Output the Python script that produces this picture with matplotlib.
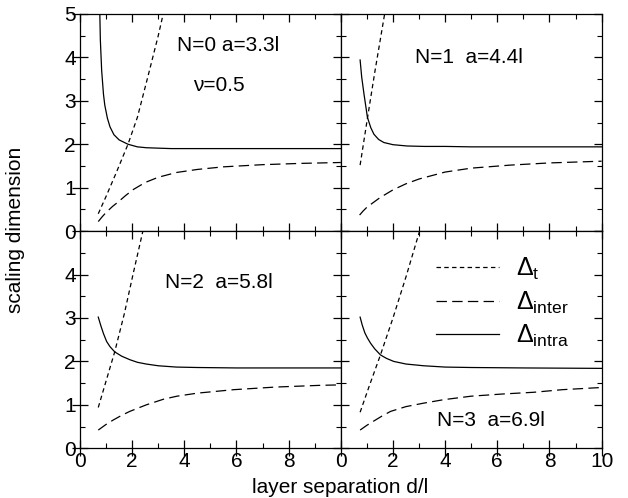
import matplotlib
matplotlib.use('Agg')
import matplotlib.pyplot as plt
from matplotlib.ticker import MultipleLocator

plt.rcParams['font.family'] = ['Liberation Sans', 'DejaVu Sans']
plt.rcParams['mathtext.fontset'] = 'custom'
plt.rcParams['mathtext.rm'] = 'Liberation Sans'
plt.rcParams['mathtext.it'] = 'Liberation Sans:italic'
plt.rcParams['lines.scale_dashes'] = False

# values, one panel per N
# N=0
d_intra0 = [0.76, 0.78, 0.83, 0.9, 0.95, 1.05, 1.15, 1.3, 1.5, 1.84, 2.2, 2.54, 3.0, 3.5, 4.5, 6, 8, 10]
y_intra0 = [5.0, 4.4, 3.7, 3.15, 2.9, 2.6, 2.4, 2.22, 2.1, 2.0, 1.94, 1.92, 1.91, 1.9, 1.9, 1.9, 1.9, 1.9]
d_t0 = [0.7, 1.0, 1.4, 1.84, 2.2, 2.6, 3.0, 3.19]
y_t0 = [0.4, 0.8, 1.36, 2.0, 2.62, 3.55, 4.5, 5.0]
d_inter0 = [0.7, 0.85, 1.0, 1.25, 1.5, 1.75, 2.05, 2.5, 3.0, 3.7, 4.5, 5.5, 7, 8.5, 10]
y_inter0 = [0.22, 0.33, 0.43, 0.57, 0.69, 0.82, 0.96, 1.12, 1.24, 1.35, 1.42, 1.48, 1.53, 1.56, 1.58]

# N=1
d_intra1 = [0.74, 0.8, 0.89, 1.02, 1.15, 1.27, 1.45, 1.65, 2.0, 2.54, 3.2, 4, 5, 7, 10]
y_intra1 = [3.94, 3.55, 3.15, 2.62, 2.38, 2.23, 2.11, 2.04, 1.99, 1.96, 1.95, 1.95, 1.94, 1.94, 1.94]
d_t1 = [0.74, 1.0, 1.3, 1.68]
y_t1 = [1.52, 2.52, 3.65, 5.0]
d_inter1 = [0.72, 0.85, 1.0, 1.25, 1.5, 2.0, 2.5, 3.0, 4.0, 5.0, 6.5, 8, 10]
y_inter1 = [0.37, 0.46, 0.55, 0.66, 0.77, 0.95, 1.09, 1.2, 1.36, 1.45, 1.52, 1.57, 1.61]

# N=2
d_intra2 = [0.7, 0.8, 0.9, 1.02, 1.15, 1.33, 1.6, 1.91, 2.2, 2.54, 3.0, 3.7, 4.5, 6, 8, 10]
y_intra2 = [3.02, 2.82, 2.64, 2.46, 2.34, 2.22, 2.12, 2.04, 1.98, 1.94, 1.9, 1.87, 1.86, 1.85, 1.85, 1.85]
d_t2 = [0.7, 1.0, 1.33, 1.7, 2.05, 2.41]
y_t2 = [0.94, 1.55, 2.22, 3.1, 4.05, 5.0]
d_inter2 = [0.7, 1.0, 1.27, 1.6, 1.91, 2.54, 3.2, 3.72, 4.5, 5.9, 7.5, 9.23, 10]
y_inter2 = [0.42, 0.55, 0.65, 0.76, 0.85, 1.0, 1.13, 1.2, 1.27, 1.35, 1.41, 1.45, 1.46]

# N=3
d_intra3 = [0.74, 0.82, 0.92, 1.02, 1.14, 1.3, 1.52, 1.75, 2.03, 2.5, 3.18, 4, 5, 7, 10]
y_intra3 = [3.02, 2.84, 2.66, 2.54, 2.42, 2.29, 2.15, 2.07, 2.0, 1.94, 1.9, 1.87, 1.86, 1.85, 1.84]
d_t3 = [0.74, 1.1, 1.52, 2.0, 2.5, 3.02]
y_t3 = [0.83, 1.45, 2.15, 3.0, 3.95, 5.0]
d_inter3 = [0.74, 1.0, 1.27, 1.6, 1.91, 2.5, 3.18, 3.95, 5.0, 6.2, 7.4, 8.5, 9.7, 10]
y_inter3 = [0.42, 0.53, 0.63, 0.75, 0.85, 0.96, 1.04, 1.12, 1.2, 1.25, 1.29, 1.35, 1.39, 1.4]

titles = ['N=0 a=3.3l', 'N=1  a=4.4l', 'N=2  a=5.8l', 'N=3  a=6.9l']
title_pos = [(3.72, 4.28), (2.86, 4.0), (3.27, 3.81), (3.69, 0.63)]

panels = [
    (d_t0, y_t0, d_inter0, y_inter0, d_intra0, y_intra0),
    (d_t1, y_t1, d_inter1, y_inter1, d_intra1, y_intra1),
    (d_t2, y_t2, d_inter2, y_inter2, d_intra2, y_intra2),
    (d_t3, y_t3, d_inter3, y_inter3, d_intra3, y_intra3),
]

fig, axs = plt.subplots(2, 2, figsize=(6.28, 4.98), dpi=100)
fig.subplots_adjust(left=0.1274, right=0.958, top=0.972, bottom=0.0998,
                    wspace=0, hspace=0)
axs = axs.ravel()

fs = 15
for i, ax in enumerate(axs):
    dt, yt, di, yi, da, ya = panels[i]
    lt, = ax.plot(dt, yt, color='k', lw=0.9, dashes=(3.2, 2.4))
    li, = ax.plot(di, yi, color='k', lw=0.9, dashes=(7.5, 3.8))
    la, = ax.plot(da, ya, color='k', lw=0.9)
    ax.set_xlim(0, 10)
    ax.set_ylim(0, 5)
    ax.text(title_pos[i][0], title_pos[i][1], titles[i], fontsize=fs,
            ha='left', va='center')

    row, col = divmod(i, 2)
    if row == 0 or col == 1:
        ax.set_yticks([0, 1, 2, 3, 4, 5])
    else:
        ax.set_yticks([0, 1, 2, 3, 4])
    if col == 0 and row == 1:
        ax.set_xticks([0, 2, 4, 6, 8])
    else:
        ax.set_xticks([0, 2, 4, 6, 8, 10])
    ax.xaxis.set_minor_locator(MultipleLocator(1))
    ax.yaxis.set_minor_locator(MultipleLocator(0.5))
    ax.tick_params(which='both', direction='in', top=True, right=True,
                   labelsize=fs, pad=3)
    ax.tick_params(which='major', length=6, width=0.9)
    ax.tick_params(which='minor', length=3.5, width=0.8)
    ax.tick_params(labelleft=(col == 0), labelbottom=(row == 1))
    for sp in ax.spines.values():
        sp.set_linewidth(0.9)

    # outer left / bottom major ticks stick through the frame
    if col == 0:
        for t in ax.yaxis.get_major_ticks():
            t.tick1line.set_marker('_')
            t.tick1line.set_markersize(11)
    if row == 1:
        for t in ax.xaxis.get_major_ticks():
            t.tick1line.set_marker('|')
            t.tick1line.set_markersize(11)

    if i == 3:
        ax.legend([lt, li, la],
                  [r'$\Delta_\mathrm{t}$', r'$\Delta_\mathrm{inter}$',
                   r'$\Delta_\mathrm{intra}$'],
                  loc='upper left', bbox_to_anchor=(0.28, 0.99),
                  frameon=False, fontsize=18, handlelength=2.5,
                  handletextpad=0.7, labelspacing=0.3)

axs[0].text(4.35, 3.36, 'ν=0.5', fontsize=fs, ha='left', va='center')

fig.text(0.025, 0.538, 'scaling dimension', rotation=90, fontsize=fs,
         ha='center', va='center')
fig.text(0.542, 0.022, 'layer separation d/l', fontsize=fs,
         ha='center', va='center')

fig.savefig('out.png', dpi=100)
